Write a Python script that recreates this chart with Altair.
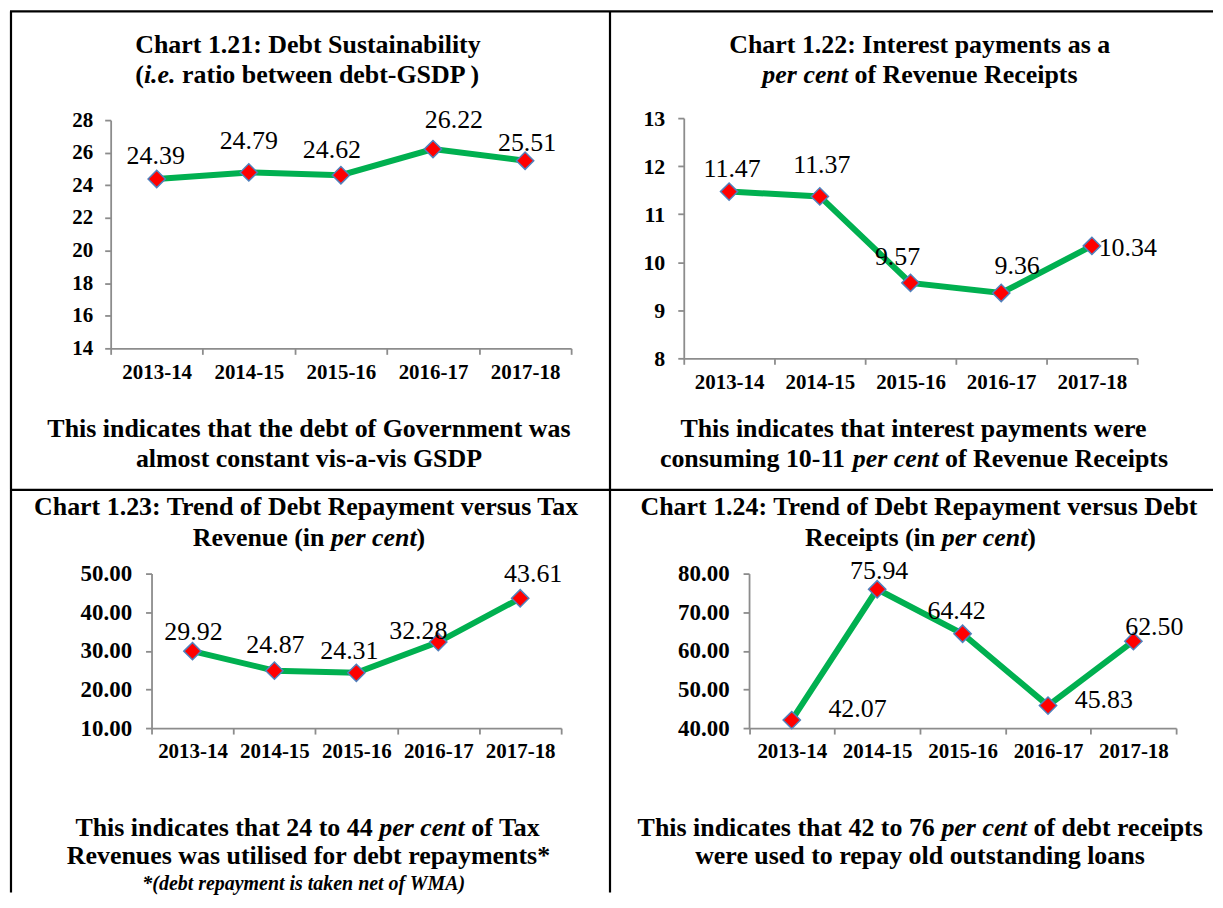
import altair as alt
import pandas as pd

# ---------------- data ----------------
YEARS = ["2013-14", "2014-15", "2015-16", "2016-17", "2017-18"]
DEBT_GSDP = [24.39, 24.79, 24.62, 26.22, 25.51]
INTEREST_RR = [11.47, 11.37, 9.57, 9.36, 10.34]
REPAY_TAX = [29.92, 24.87, 24.31, 32.28, 43.61]
REPAY_DEBT = [42.07, 75.94, 64.42, 45.83, 62.50]

TICKS_1 = [14, 16, 18, 20, 22, 24, 26, 28]
TICKS_2 = [8, 9, 10, 11, 12, 13]
TICKS_3 = [10, 20, 30, 40, 50]
TICKS_4 = [40, 50, 60, 70, 80]

# text lines: list of (segment, italic)
TITLE_1 = [[("Chart 1.21: Debt Sustainability", False)],
           [("(", False), ("i.e.", True), (" ratio between debt-GSDP )", False)]]
NOTE_1 = [[("This indicates that the debt of Government was", False)],
          [("almost constant vis-a-vis GSDP", False)]]
TITLE_2 = [[("Chart 1.22: Interest payments as a", False)],
           [("per cent", True), (" of Revenue Receipts", False)]]
NOTE_2 = [[("This indicates that interest payments were", False)],
          [("consuming 10-11 ", False), ("per cent", True), (" of Revenue Receipts", False)]]
TITLE_3 = [[("Chart 1.23: Trend of Debt Repayment versus Tax", False)],
           [("Revenue (in ", False), ("per cent", True), (")", False)]]
NOTE_3 = [[("This indicates that 24 to 44 ", False), ("per cent", True), (" of Tax", False)],
          [("Revenues was utilised for debt repayments*", False)]]
FOOT_3 = [[("*(debt repayment is taken net of WMA)", True)]]
TITLE_4 = [[("Chart 1.24: Trend of Debt Repayment versus Debt", False)],
           [("Receipts (in ", False), ("per cent", True), (")", False)]]
NOTE_4 = [[("This indicates that 42 to 76 ", False), ("per cent", True), (" of debt receipts", False)],
          [("were used to repay old outstanding loans", False)]]

# ---------------- style ----------------
FONT = "Liberation Serif"
GREEN = "#00b050"
RED = "#ff0000"
BLUE = "#4f81bd"
GRAY = "#8c8c8c"
W0, W1, H0, H1 = 601, 606, 482, 404

# Times (Liberation Serif) bold / bold-italic advance widths (per 1000 em)
WB = {' ': 250, '(': 333, ')': 333, '*': 500, '-': 333, '.': 250, ':': 333, ',': 250,
      'A': 722, 'B': 667, 'C': 722, 'D': 722, 'E': 667, 'F': 611, 'G': 778, 'H': 778, 'I': 389,
      'J': 500, 'K': 778, 'L': 667, 'M': 944, 'N': 722, 'O': 778, 'P': 611, 'Q': 778, 'R': 722,
      'S': 556, 'T': 667, 'U': 722, 'V': 722, 'W': 1000, 'X': 722, 'Y': 722, 'Z': 667,
      'a': 500, 'b': 556, 'c': 444, 'd': 556, 'e': 444, 'f': 333, 'g': 500, 'h': 556, 'i': 278,
      'j': 333, 'k': 556, 'l': 278, 'm': 833, 'n': 556, 'o': 500, 'p': 556, 'q': 556, 'r': 444,
      's': 389, 't': 333, 'u': 556, 'v': 500, 'w': 722, 'x': 500, 'y': 500, 'z': 444}
WBI = {' ': 250, '(': 333, ')': 333, '*': 500, '.': 250, '-': 333,
       'a': 500, 'b': 500, 'c': 444, 'd': 500, 'e': 444, 'f': 333, 'g': 500, 'h': 556, 'i': 278,
       'j': 278, 'k': 500, 'l': 278, 'm': 778, 'n': 556, 'o': 500, 'p': 500, 'q': 500, 'r': 389,
       's': 389, 't': 278, 'u': 556, 'v': 444, 'w': 667, 'x': 500, 'y': 444, 'z': 389,
       'A': 667, 'M': 889, 'W': 889}


def seg_width(t, italic, size):
    table = WBI if italic else WB
    return sum(table.get(ch, 500) for ch in t) * size / 1000.0


ONE = pd.DataFrame({"k": [0]})


def text_lines(lines, cx, ys, size):
    out = []
    for segs, y in zip(lines, ys):
        total = sum(seg_width(t, it, size) for t, it in segs)
        x = cx - total / 2.0
        for t, it in segs:
            lead = len(t) - len(t.lstrip(" "))
            xs = x + lead * 0.25 * size
            out.append(
                alt.Chart(ONE).mark_text(
                    text=t.strip(" "), font=FONT, fontSize=size, fontWeight="bold",
                    fontStyle="italic" if it else "normal", align="left",
                    baseline="alphabetic", color="black"
                ).encode(x=alt.value(xs), y=alt.value(y))
            )
            x += seg_width(t, it, size)
    return out


CELLS = [
    dict(values=DEBT_GSDP, ticks=TICKS_1, fmt="d", w=W0, h=H0, xr=(101, 563), yr=(340, 111),
         ylab=21, ypad=12, title=TITLE_1, tx=299, ty=(44, 74), note=NOTE_1, nx=300, ny=(429, 459),
         foot=None, nudge=[(-1, -15), (0, -24), (-9, -17), (21, -21), (2, -10)], top=2),
    dict(values=INTEREST_RR, ticks=TICKS_2, fmt="d", w=W1, h=H0, xr=(75, 530), yr=(350, 109),
         ylab=22, ypad=13, title=TITLE_2, tx=312, ty=(44, 74), note=NOTE_2, nx=306, ny=(429, 459),
         foot=None, nudge=[(3, -15), (2, -23), (-13, -18), (16, -19), (36, 10)], top=2),
    dict(values=REPAY_TAX, ticks=TICKS_3, fmt=".2f", w=W0, h=H1, xr=(142, 553), yr=(239, 84),
         ylab=23, ypad=14, title=TITLE_3, tx=300, ty=(25, 56), note=NOTE_3, nx=300, ny=(347, 375),
         foot=FOOT_3, nudge=[(1, -11), (1, -18), (-7, -14), (-20, -3), (13, -16)], top=0),
    dict(values=REPAY_DEBT, ticks=TICKS_4, fmt=".2f", w=W1, h=H1, xr=(140.5, 569), yr=(239, 84),
         ylab=23, ypad=14, title=TITLE_4, tx=312.5, ty=(25, 56), note=NOTE_4, nx=312.5, ny=(347, 375),
         foot=None, nudge=[(66, -3), (2, -10), (-6, -15), (56, 2), (21, -6)], top=0),
]


def make_cell(c):
    df = pd.DataFrame({"year": YEARS, "value": c["values"]})
    lo, hi = min(c["ticks"]), max(c["ticks"])
    x = alt.X(
        "year:N", sort=YEARS,
        scale=alt.Scale(domain=YEARS, range=list(c["xr"]), paddingInner=0, paddingOuter=0),
        axis=alt.Axis(title=None, labelAngle=0, labelFont=FONT, labelFontWeight="bold",
                      labelFontSize=21, labelColor="black", labelBaseline="alphabetic",
                      labelPadding=24, tickSize=6, tickColor=GRAY, tickWidth=1.8,
                      domainColor=GRAY, domainWidth=1.8, tickBand="extent", grid=False,
                      offset=c["yr"][0] - c["h"]),
    )
    y = alt.Y(
        "value:Q",
        scale=alt.Scale(domain=[lo, hi], range=list(c["yr"]), nice=False, zero=False),
        axis=alt.Axis(title=None, values=c["ticks"], format=c["fmt"], labelFont=FONT,
                      labelFontWeight="bold", labelFontSize=c["ylab"], labelColor="black",
                      labelPadding=c["ypad"], tickSize=6, tickColor=GRAY, tickWidth=1.8,
                      domainColor=GRAY, domainWidth=1.8, grid=False, offset=-c["xr"][0]),
    )
    base = alt.Chart(df).encode(x=x, y=y)
    layers = [
        base.mark_line(color=GREEN, strokeWidth=6),
        base.mark_point(shape="diamond", size=300, filled=True, fill=RED, stroke=BLUE,
                        strokeWidth=1.5, opacity=1),
    ]
    for i, (dx, dy) in enumerate(c["nudge"]):
        layers.append(
            base.transform_filter(alt.datum.year == YEARS[i]).mark_text(
                font=FONT, fontSize=26, color="black", align="center",
                baseline="alphabetic", dx=dx, dy=dy
            ).encode(text=alt.Text("value:Q", format=".2f"))
        )
    layers += text_lines(c["title"], c["tx"], c["ty"], 26)
    layers += text_lines(c["note"], c["nx"], c["ny"], 26)
    if c["foot"]:
        layers += text_lines(c["foot"], 295, [401], 20)
    # table borders
    layers.append(alt.Chart(ONE).mark_rule(color="black", strokeWidth=2.2).encode(
        x=alt.value(0), x2=alt.value(c["w"]), y=alt.value(c["top"])))
    layers.append(alt.Chart(ONE).mark_rule(color="black", strokeWidth=2.2).encode(
        x=alt.value(1), y=alt.value(c["top"]), y2=alt.value(c["h"])))
    return alt.layer(*layers).properties(width=c["w"], height=c["h"])


cells = [make_cell(c) for c in CELLS]
chart = alt.concat(*cells, columns=2, spacing=0, bounds="flush").properties(
    padding=0, background="white"
).configure_view(stroke=None)

chart.save("out.html", embed_options={"renderer": "svg", "actions": False})
